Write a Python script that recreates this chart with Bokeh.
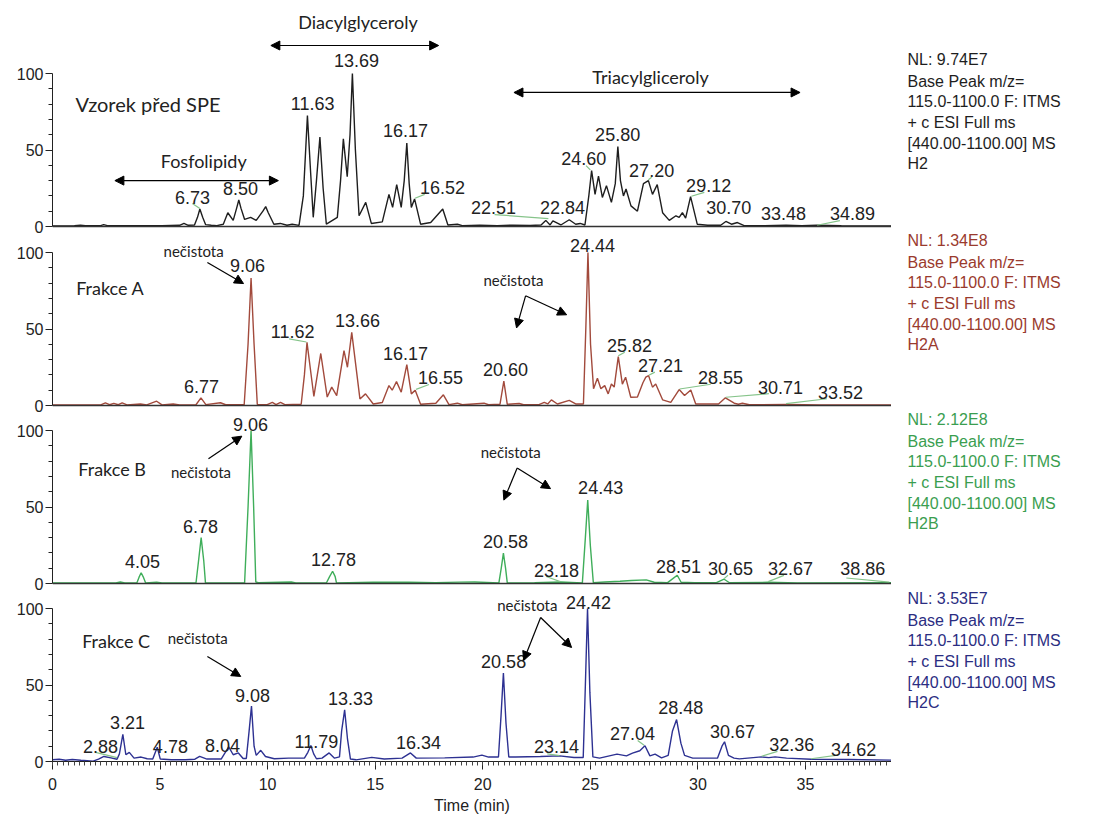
from bokeh.plotting import figure
from bokeh.models import Span, Label, Arrow, NormalHead, FixedTicker, ColumnDataSource, Range1d
from bokeh.layouts import column, row
from bokeh.core.properties import value
from bokeh.embed import file_html
from bokeh.resources import INLINE

# Sample before SPE (H2), relative abundance (%) vs time (min)
h2_time = [0.0, 1.02, 1.30, 1.53, 2.24, 2.38, 2.55, 4.07, 5.09, 5.91, 6.11, 6.31, 6.60, 6.74, 6.85, 6.98, 7.12,
           7.38, 7.64, 7.94, 8.15, 8.40, 8.56, 8.66, 8.76, 8.93, 9.21, 9.47, 9.78, 9.91, 10.03, 10.29, 10.59,
           10.90, 11.14, 11.46, 11.66, 11.85, 12.00, 12.12, 12.27, 12.43, 12.58, 12.73, 13.24, 13.39, 13.52,
           13.70, 13.83, 13.94, 14.08, 14.25, 14.56, 14.82, 15.33, 15.64, 15.81, 16.00, 16.21, 16.35, 16.47,
           16.58, 16.68, 16.83, 17.11, 17.58, 18.14, 18.38, 18.82, 19.05, 19.86, 20.68, 21.39, 22.20, 22.71,
           22.93, 23.13, 23.26, 23.63, 24.02, 24.32, 24.53, 24.75, 24.93, 25.06, 25.22, 25.38, 25.56, 25.75,
           25.98, 26.16, 26.28, 26.40, 26.54, 26.66, 26.89, 27.19, 27.47, 27.70, 27.89, 28.11, 28.36, 28.67,
           28.98, 29.13, 29.28, 29.43, 29.66, 29.97, 30.45, 31.06, 31.30, 31.56, 31.84, 32.15, 33.10, 34.10,
           34.83, 35.54, 36.67, 39.0]
h2_int = [0.4, 0.5, 0.9, 0.5, 0.6, 1.2, 0.6, 0.5, 0.6, 0.8, 2.0, 0.8, 1.0, 6.0, 11.4, 6.0, 1.2,
          0.8, 0.6, 1.5, 9.0, 4.0, 12.0, 17.3, 12.0, 4.6, 6.0, 4.0, 10.0, 13.0, 9.0, 1.5, 2.0,
          0.8, 1.5, 0.7, 20.0, 72.6, 35.0, 6.0, 30.0, 58.4, 25.0, 1.5, 6.0, 30.0, 57.3,
          32.6, 60.0, 100.0, 50.0, 7.0, 15.8, 2.0, 3.0, 21.0, 12.5, 27.4, 12.5, 30.0, 54.5,
          28.0, 12.5, 18.0, 1.5, 2.6, 11.4, 1.0, 1.5, 0.6, 0.8, 0.6, 0.9, 0.7, 1.0,
          4.0, 1.0, 3.7, 1.0, 4.4, 1.5, 2.0, 1.0, 20.0, 36.5, 21.0, 33.0, 19.0, 26.7,
          15.8, 28.0, 52.3, 30.0, 20.0, 24.5, 13.5, 10.0, 28.0, 30.0, 21.0, 27.4, 9.0, 4.0,
          7.0, 6.0, 9.0, 5.5, 19.5, 1.5, 0.8, 0.8, 3.3, 1.5, 2.6, 0.6, 0.6, 0.9,
          0.5, 0.8, 0.5, 0.4]

# Fraction A (H2A)
h2a_time = [0.0, 2.24, 2.46, 2.65, 2.85, 3.06, 3.24, 3.46, 4.09, 4.38, 4.84, 5.09, 5.61, 5.91, 6.67, 6.90, 7.13,
            7.81, 8.05, 8.91, 9.09, 9.23, 9.37, 9.52, 9.98, 10.22, 10.39, 10.60, 10.80, 11.56, 11.71, 11.83, 12.15,
            12.47, 12.77, 12.98, 13.21, 13.55, 13.71, 13.91, 14.29, 14.55, 14.91, 15.33, 15.64, 15.79, 15.99,
            16.21, 16.47, 16.68, 16.86, 17.11, 17.82, 18.17, 18.43, 18.82, 19.05, 20.06, 20.27, 20.80, 20.98,
            21.14, 21.69, 21.90, 22.61, 22.86, 23.02, 23.19, 23.47, 24.02, 24.32, 24.68, 24.79, 24.89, 25.01,
            25.15, 25.33, 25.49, 25.67, 25.83, 25.98, 26.11, 26.30, 26.49, 26.64, 26.88, 27.19, 27.45, 27.58,
            27.71, 27.89, 28.04, 28.36, 28.74, 29.13, 29.38, 29.67, 29.90, 30.52, 30.96, 31.28, 31.69, 31.88,
            32.07, 32.39, 34.14, 35.65, 39.0]
h2a_int = [0.3, 0.4, 1.7, 0.5, 1.4, 0.5, 1.7, 0.4, 1.0, 0.4, 2.8, 0.4, 1.0, 0.4, 0.5, 5.0, 0.6,
           1.8, 0.5, 0.5, 40.0, 83.3, 40.0, 0.6, 0.5, 2.0, 0.6, 2.0, 0.5, 0.8, 20.0, 41.3, 5.9,
           34.0, 5.5, 12.0, 6.5, 35.9, 25.0, 47.8, 4.3, 7.6, 1.0, 2.0, 13.0, 10.0, 15.6,
           8.7, 26.7, 7.6, 10.0, 0.8, 1.5, 7.0, 0.6, 1.5, 0.5, 1.5, 0.5, 0.8, 15.9,
           0.8, 1.3, 0.5, 0.6, 2.0, 1.0, 3.7, 1.0, 3.3, 1.0, 1.0, 50.0, 100.0, 40.0,
           11.0, 17.8, 11.0, 13.0, 7.6, 14.0, 12.0, 32.0, 14.0, 18.5, 5.4, 5.5, 15.0, 18.5,
           19.5, 12.0, 14.0, 3.7, 2.0, 10.4, 6.5, 10.2, 1.0, 1.0, 1.0, 5.0, 1.5, 0.8,
           1.5, 0.5, 0.7, 0.4, 0.3]

# Fraction B (H2B)
h2b_time = [0.0, 2.95, 3.15, 3.36, 3.92, 4.02, 4.12, 4.23, 4.33, 4.84, 5.09, 6.67, 6.79, 6.91, 7.03, 7.11, 8.93,
            9.09, 9.23, 9.35, 9.45, 9.57, 11.10, 11.31, 12.73, 12.88, 13.02, 13.14, 13.20, 14.90, 16.56, 17.80,
            18.94, 19.63, 20.75, 20.86, 20.96, 21.06, 21.14, 22.41, 23.61, 24.63, 24.77, 24.88, 25.00, 25.14,
            25.67, 26.38, 26.91, 27.60, 27.97, 28.59, 28.82, 29.04, 29.22, 29.84, 30.86, 31.22, 31.47, 33.27,
            34.63, 39.0]
h2b_int = [0.3, 0.3, 1.0, 0.3, 0.3, 4.0, 7.0, 4.0, 0.3, 0.8, 0.3, 0.3, 15.0, 30.0, 15.0, 0.4, 0.4,
           50.0, 100.0, 50.0, 1.0, 0.6, 1.0, 0.3, 0.3, 4.5, 8.0, 4.5, 0.4, 0.8, 0.9, 0.6,
           0.9, 1.0, 0.4, 10.0, 19.9, 10.0, 0.4, 0.5, 1.0, 0.4, 30.0, 54.5, 25.0, 0.6,
           1.0, 1.5, 2.0, 2.4, 0.8, 0.6, 3.0, 5.4, 0.8, 0.6, 0.5, 2.8, 0.5, 0.8,
           0.4, 0.5]

# Fraction C (H2C)
h2c_time = [0.0, 0.31, 0.61, 0.92, 1.32, 1.89, 2.14, 2.39, 2.72, 3.00, 3.11, 3.27, 3.41, 3.57, 3.79, 4.12, 4.40,
            4.66, 4.87, 5.01, 5.52, 6.18, 6.62, 6.84, 7.18, 7.84, 8.19, 8.40, 8.64, 8.86, 9.01, 9.14, 9.25, 9.37,
            9.47, 9.68, 9.90, 10.31, 10.97, 11.71, 11.87, 12.01, 12.14, 12.27, 12.53, 12.86, 13.11, 13.34, 13.44,
            13.58, 13.71, 13.85, 14.11, 14.84, 15.42, 16.25, 16.64, 16.91, 18.23, 19.55, 19.96, 20.27, 20.73,
            20.85, 20.96, 21.08, 21.21, 21.52, 22.68, 23.57, 24.24, 24.67, 24.77, 24.87, 24.98, 25.12, 25.43,
            26.24, 26.68, 26.96, 27.30, 27.54, 27.77, 28.01, 28.31, 28.62, 28.82, 29.01, 29.21, 29.38, 29.76,
            30.48, 30.91, 31.12, 31.24, 31.42, 31.68, 31.93, 32.96, 33.30, 33.59, 34.12, 35.26, 37.00, 39.0]
h2c_int = [1.1, 1.5, 0.8, 1.3, 0.8, 0.2, 1.5, 3.3, 2.4, 1.5, 5.0, 17.8, 4.4, 6.0, 2.2, 2.9, 1.8,
           1.6, 9.3, 1.6, 1.1, 1.1, 1.5, 3.3, 1.6, 1.6, 9.5, 4.4, 5.6, 2.0, 2.0, 20.0, 36.2, 10.0,
           4.0, 7.3, 3.3, 1.8, 2.2, 2.2, 6.0, 10.4, 5.0, 1.8, 2.2, 5.6, 2.2, 3.0, 20.0,
           33.8, 15.0, 1.6, 1.1, 2.7, 1.6, 2.2, 5.6, 2.2, 2.4, 2.9, 4.2, 2.9, 2.9,
           30.0, 57.8, 25.0, 2.9, 2.9, 3.3, 3.7, 2.6, 2.6, 50.0, 100.0, 45.0, 3.0, 2.2,
           4.8, 3.7, 5.5, 7.0, 10.3, 3.7, 4.8, 2.4, 4.0, 20.0, 27.4, 12.0, 4.0, 2.2,
           2.2, 2.2, 10.0, 12.9, 4.0, 2.2, 1.7, 3.0, 2.5, 3.0, 2.2, 1.5, 1.3, 0.9]

# peak labels (retention times as printed)
h2_peaks = ["6.73", "8.50", "11.63", "13.69", "16.17", "16.52", "22.51", "22.84", "24.60", "25.80",
            "27.20", "29.12", "30.70", "33.48", "34.89"]
h2a_peaks = ["6.77", "9.06", "11.62", "13.66", "16.17", "16.55", "20.60", "24.44", "25.82", "27.21",
             "28.55", "30.71", "33.52"]
h2b_peaks = ["4.05", "6.78", "9.06", "12.78", "20.58", "23.18", "24.43", "28.51", "30.65", "32.67", "38.86"]
h2c_peaks = ["2.88", "3.21", "4.78", "8.04", "9.08", "11.79", "13.33", "16.34", "20.58", "23.14", "24.42",
             "27.04", "28.48", "30.67", "32.36", "34.62"]

# instrument info blocks
nl_values = ["9.74E7", "1.34E8", "2.12E8", "3.53E7"]
scan_names = ["H2", "H2A", "H2B", "H2C"]
panel_names = ["Vzorek před SPE", "Frakce A", "Frakce B", "Frakce C"]

x_ticks = [0, 5, 10, 15, 20, 25, 30, 35]
y_ticks = [0, 50, 100]

# ---------------- layout / style ----------------
X_END = 39.0
FRAME_W = 839
LEFT = 52
INFO_W = 1111 - LEFT - FRAME_W
PXU = 1.53          # px per % unit
BELOW0 = 9          # frame kept under each zero line (room for the "0" tick label)
BOTTOM = 56         # room for the time axis
TOTAL_H = 761 + BOTTOM

LINE_COLORS = ["#1e1e1e", "#a24a3c", "#3fae5a", "#2d3192"]
TEXT_COLORS = ["#1e1e1e", "#9a3a2d", "#3a9e50", "#2b2d82"]
LEADER = "#86c48a"
NUM_FONT = "Liberation Sans"
ANN_FONT = "Lato"

# peak label positions (x in min, y in %)
lab_pos = [
    [(6.51, 19.2), (8.74, 24.6), (12.09, 80.2), (14.13, 108.5), (16.41, 62.7), (18.13, 25.7), (20.5, 12.6),
     (23.71, 12.6), (24.69, 44.2), (26.27, 60.1), (27.85, 36.6), (30.5, 26.8), (31.43, 12.6), (33.98, 8.3),
     (37.19, 8.3)],
    [(6.93, 12.4), (9.06, 91.5), (11.16, 48.6), (14.18, 55.6), (16.41, 33.8), (18.04, 18.5), (21.06, 23.3),
     (25.1, 104.6), (26.82, 39.2), (28.26, 26.1), (31.05, 18.5), (33.84, 12.0), (36.63, 8.7)],
    [(4.18, 14.5), (6.88, 37.2), (9.2, 104.0), (13.06, 15.6), (21.06, 27.5), (23.43, 8.7), (25.48, 62.8),
     (29.1, 10.8), (31.52, 9.7), (34.31, 9.7), (37.66, 9.7)],
    [(2.23, 10.0), (3.49, 25.6), (5.48, 10.0), (7.9, 10.4), (9.3, 43.3), (12.27, 13.3), (13.85, 41.1),
     (17.01, 12.2), (20.97, 65.1), (23.43, 9.6), (24.92, 104.0), (26.96, 18.0), (29.2, 35.0), (31.61, 19.5),
     (34.36, 10.9), (37.24, 8.1)],
]
leaders = [
    [(6.5, 15.0, 6.85, 11.8), (16.85, 18.5, 17.3, 21.0), (20.55, 7.8, 23.05, 5.2), (24.8, 39.8, 25.0, 37.0),
     (27.7, 30.5, 27.85, 32.2), (29.7, 19.8, 30.3, 22.3), (35.54, 0.8, 36.6, 3.8)],
    [(11.0, 43.5, 11.8, 41.5), (16.9, 10.5, 17.5, 13.7), (26.3, 32.5, 26.6, 34.8), (27.72, 19.8, 28.0, 21.8),
     (29.15, 10.8, 30.6, 13.9), (31.3, 5.4, 33.3, 7.7), (34.1, 1.2, 36.0, 4.4)],
    [(22.95, 4.6, 23.6, 1.2), (31.22, 3.2, 31.4, 5.4), (33.27, 1.2, 34.0, 5.3), (36.9, 3.6, 38.9, 0.9)],
    [(2.0, 6.0, 3.0, 2.5), (23.0, 5.0, 23.57, 3.9), (27.2, 13.7, 27.5, 10.6), (32.96, 3.4, 33.7, 6.6),
     (35.26, 1.8, 36.5, 4.2)],
]
name_pos = [(1.07, 80.0, "20px"), (1.1, 77.0, "18px"), (1.2, 75.0, "18px"), (1.38, 79.0, "18px")]

zero_px = [226, 405, 583, 761]
top_px = [0, 226 + BELOW0, 405 + BELOW0, 583 + BELOW0]
series = [(h2_time, h2_int), (h2a_time, h2a_int), (h2b_time, h2b_int), (h2c_time, h2c_int)]
peaks = [h2_peaks, h2a_peaks, h2b_peaks, h2c_peaks]

figs = []
for k in range(4):
    bottom = (k == 3)
    below = 0 if bottom else BELOW0
    fh = zero_px[k] + below - top_px[k]
    yr = Range1d(-below / PXU, (zero_px[k] - top_px[k]) / PXU)
    p = figure(frame_width=FRAME_W, frame_height=fh,
               x_range=Range1d(0, X_END), y_range=yr,
               min_border_left=LEFT, min_border_right=0, min_border_top=0,
               min_border_bottom=BOTTOM if bottom else 0,
               toolbar_location=None, output_backend="svg", title=None)
    p.outline_line_color = None
    p.grid.visible = False
    p.background_fill_color = "white"
    p.border_fill_color = "white"

    ya = p.yaxis[0]
    ya.ticker = FixedTicker(ticks=y_ticks, minor_ticks=[10, 20, 30, 40, 60, 70, 80, 90])
    ya.bounds = (0, 100)
    ya.major_tick_in = 0
    ya.major_tick_out = 7
    ya.minor_tick_in = 0
    ya.minor_tick_out = 4
    ya.axis_line_color = "#222222"
    ya.major_tick_line_color = "#222222"
    ya.minor_tick_line_color = "#222222"
    ya.major_label_text_font = NUM_FONT
    ya.major_label_text_font_size = "16px"
    ya.major_label_text_color = "#222222"
    ya.major_label_standoff = 2

    xa = p.xaxis[0]
    if bottom:
        xa.ticker = FixedTicker(ticks=x_ticks, minor_ticks=[i * 0.25 for i in range(0, 157)])
        xa.major_tick_in = 0
        xa.major_tick_out = 8
        xa.minor_tick_in = 0
        xa.minor_tick_out = 4
        xa.axis_line_color = "#222222"
        xa.major_tick_line_color = "#222222"
        xa.minor_tick_line_color = "#444444"
        xa.major_label_text_font = NUM_FONT
        xa.major_label_text_font_size = "16px"
        xa.major_label_text_color = "#222222"
        xa.major_label_standoff = 8
        xa.axis_label = "Time (min)"
        xa.axis_label_text_font = NUM_FONT
        xa.axis_label_text_font_size = "16px"
        xa.axis_label_text_font_style = "normal"
        xa.axis_label_text_color = "#222222"
        xa.axis_label_standoff = 4
    else:
        xa.visible = False
        p.add_layout(Span(location=0, dimension="width", line_color="#333333", line_width=1.3))

    t, v = series[k]
    p.line(t, v, line_color=LINE_COLORS[k], line_width=1.4)

    ld = leaders[k]
    p.segment(x0=[a[0] for a in ld], y0=[a[1] for a in ld], x1=[a[2] for a in ld], y1=[a[3] for a in ld],
              line_color=LEADER, line_width=1.2)

    src = ColumnDataSource(dict(x=[q[0] for q in lab_pos[k]], y=[q[1] for q in lab_pos[k]], text=peaks[k]))
    p.text(x="x", y="y", text="text", source=src, text_font=value(NUM_FONT), text_font_size="18px",
           text_align="center", text_baseline="middle", text_color="#222222")

    nx, ny, nsize = name_pos[k]
    p.add_layout(Label(x=nx, y=ny, text=panel_names[k], text_font=ANN_FONT,
                       text_font_size=nsize, text_baseline="middle", text_color="#222222"))
    figs.append(p)

# ---- info column on the right (y in px from the top of each block) ----
info_cuts = [0, 200, 380, 560, TOTAL_H]
info_first = [59, 240, 419, 598]
infos = []
for k in range(4):
    h = info_cuts[k + 1] - info_cuts[k]
    q = figure(frame_width=INFO_W, frame_height=h, x_range=Range1d(0, INFO_W), y_range=Range1d(h, 0),
               min_border_left=0, min_border_right=0, min_border_top=0, min_border_bottom=0,
               x_axis_type=None, y_axis_type=None,
               toolbar_location=None, output_backend="svg", title=None)
    q.outline_line_color = None
    q.grid.visible = False
    q.background_fill_color = "white"
    q.border_fill_color = "white"
    lines = ["NL: " + nl_values[k], "Base Peak m/z=", "115.0-1100.0 F: ITMS", "+ c ESI Full ms",
             "[440.00-1100.00]  MS", scan_names[k]]
    y0 = info_first[k] - info_cuts[k]
    for j, s in enumerate(lines):
        yy = y0 + (0 if j == 0 else 21.5 + 20.7 * (j - 1))
        q.add_layout(Label(x=16, y=yy, text=s, text_font=NUM_FONT,
                           text_font_size="16px", text_baseline="middle", text_color=TEXT_COLORS[k]))
    infos.append(q)


def harrow(p, x0, y0, x1, y1, both=False):
    kw = dict(end=NormalHead(size=9, fill_color="black", line_color="black"),
              x_start=x0, y_start=y0, x_end=x1, y_end=y1, line_color="black", line_width=1.2)
    kw["start"] = NormalHead(size=9, fill_color="black", line_color="black") if both else None
    p.add_layout(Arrow(**kw))


def note(p, x, y, s, size="18px", align="center"):
    p.add_layout(Label(x=x, y=y, text=s, text_font=ANN_FONT, text_font_size=size, text_align=align,
                       text_baseline="middle", text_color="#222222"))


p1, p2, p3, p4 = figs
note(p1, 14.2, 133.5, "Diacylglyceroly")
harrow(p1, 10.15, 118.3, 17.95, 118.3, both=True)
note(p1, 7.03, 43.0, "Fosfolipidy")
harrow(p1, 2.9, 30.0, 10.5, 30.0, both=True)
note(p1, 27.8, 98.0, "Triacylgliceroly")
harrow(p1, 21.45, 87.6, 34.75, 87.6, both=True)

note(p2, 6.56, 101.0, "nečistota", size="15px")
harrow(p2, 7.2, 93.5, 8.88, 79.7)
note(p2, 21.43, 82.0, "nečistota", size="15px")
harrow(p2, 21.99, 71.7, 21.57, 50.7)
harrow(p2, 21.99, 71.7, 23.9, 59.3)

note(p3, 6.9, 73.0, "nečistota", size="15px")
harrow(p3, 7.25, 81.6, 8.8, 96.3)
note(p3, 21.3, 86.0, "nečistota", size="15px")
harrow(p3, 21.6, 75.5, 20.98, 54.5)
harrow(p3, 21.6, 75.5, 23.15, 62.0)

note(p4, 6.75, 81.0, "nečistota", size="15px")
harrow(p4, 7.2, 68.6, 8.75, 55.6)
note(p4, 22.07, 102.0, "nečistota", size="15px")
harrow(p4, 22.69, 94.1, 21.9, 66.0)
harrow(p4, 22.69, 94.1, 24.13, 74.5)

layout = row(column(*figs, spacing=0), column(*infos, spacing=0), spacing=0)
open("out.html", "w").write(file_html(layout, INLINE))
